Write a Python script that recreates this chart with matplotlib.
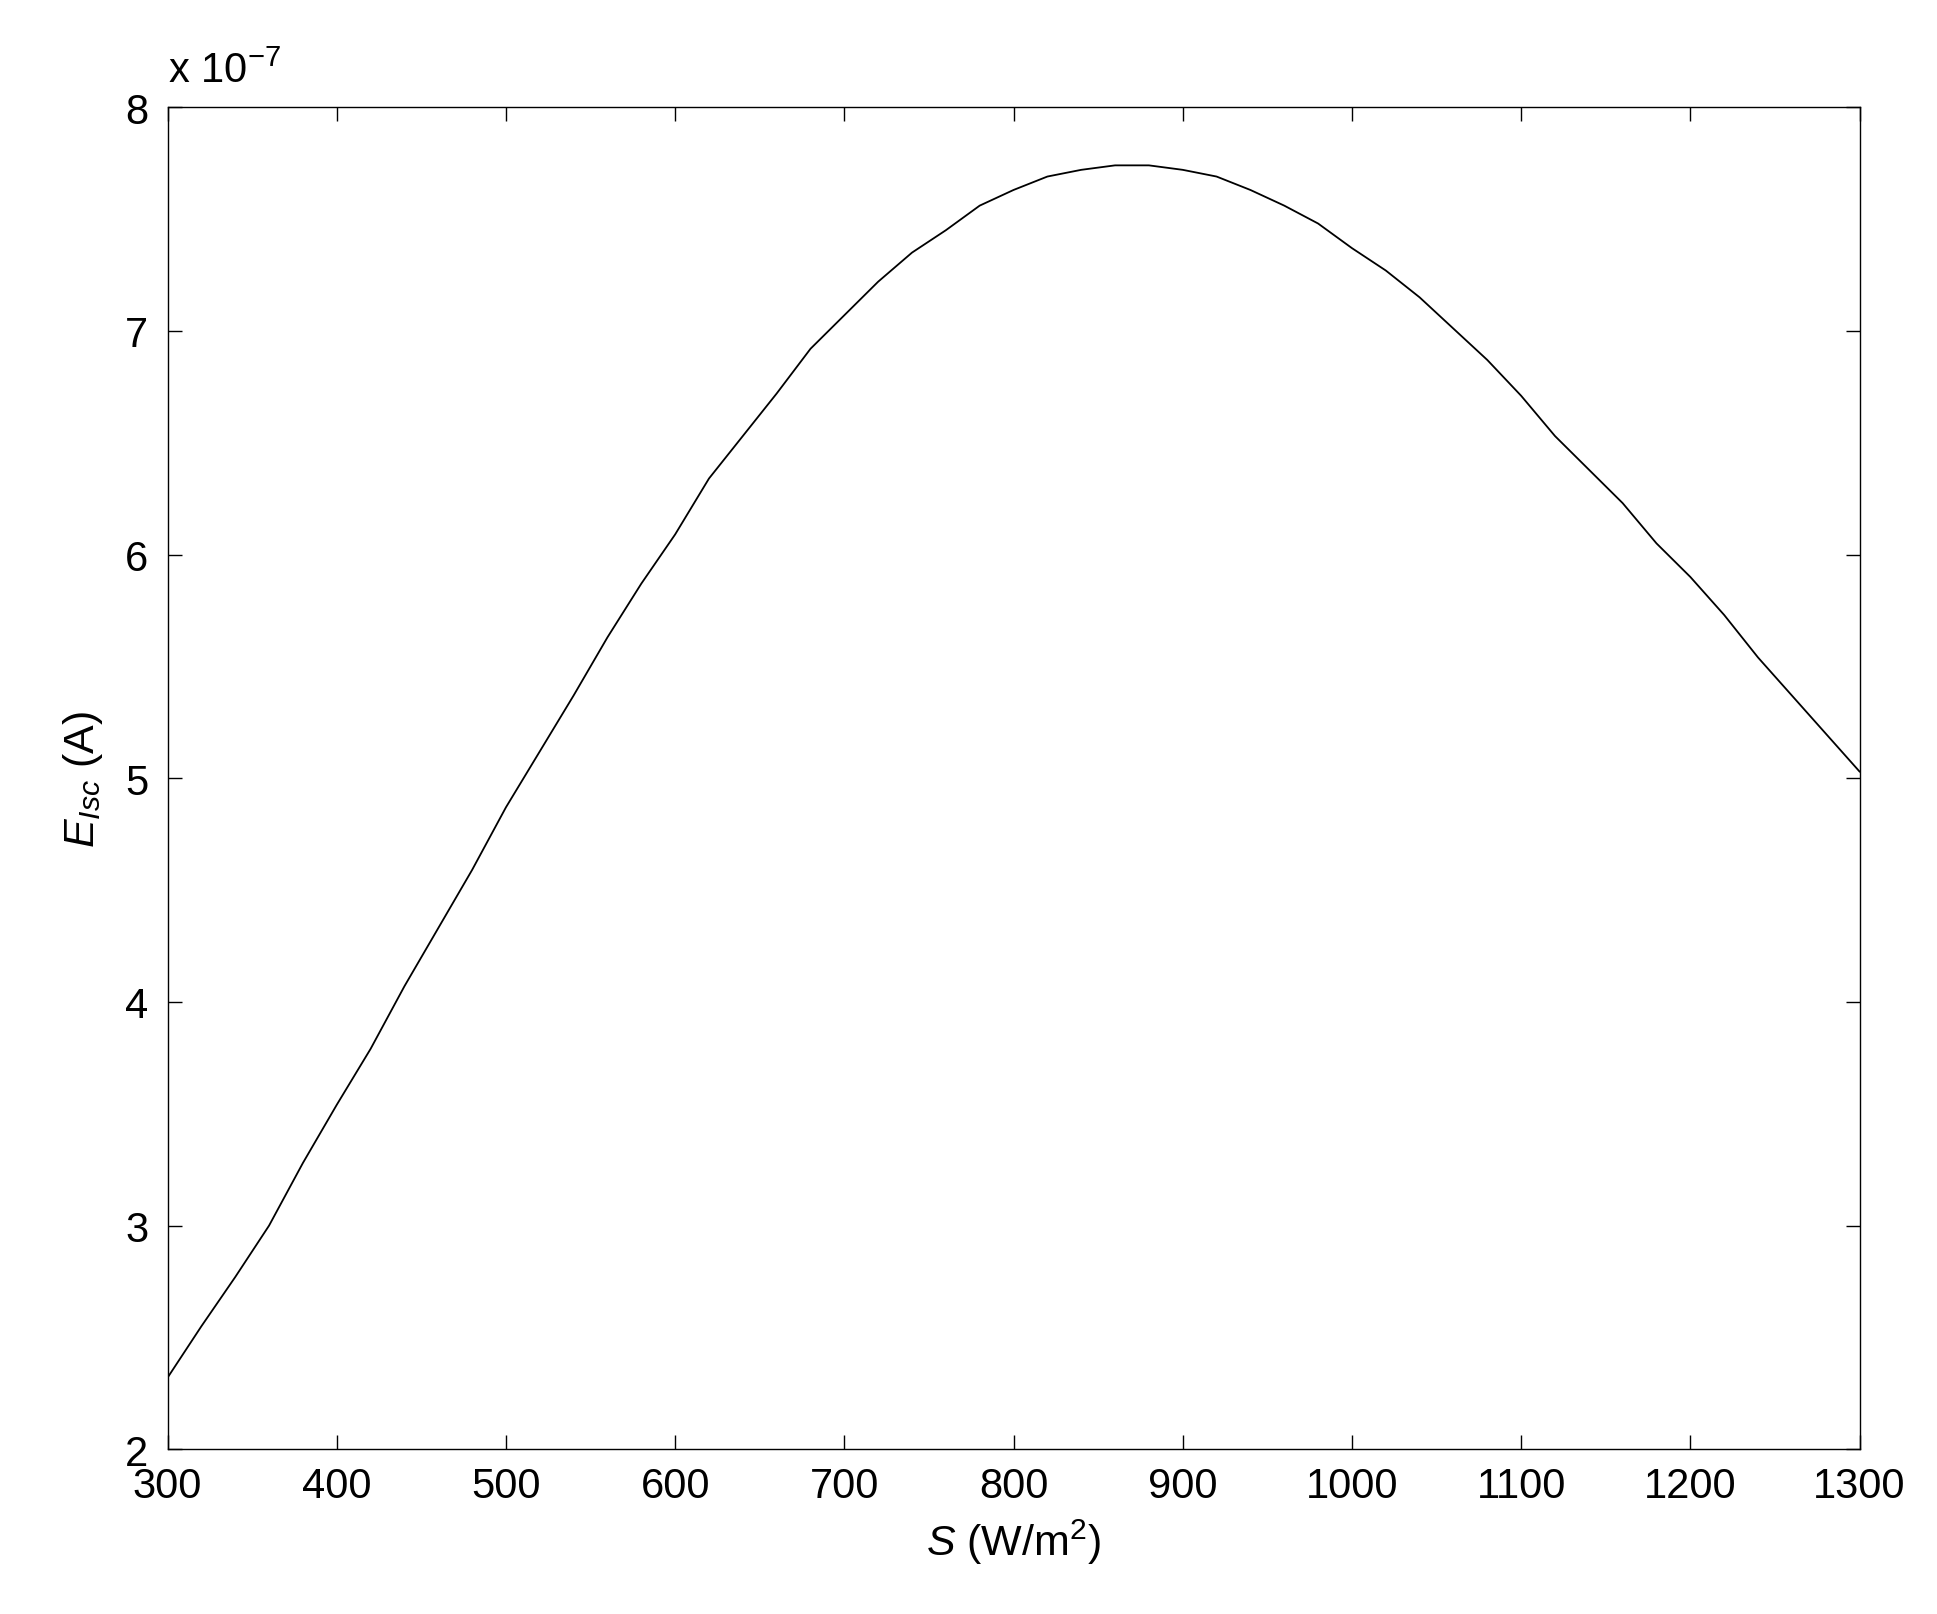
import matplotlib
matplotlib.use("Agg")
import matplotlib.pyplot as plt

S = list(range(300, 1301, 20))
E = [2.32, 2.55, 2.77, 3.00, 3.28, 3.54, 3.79, 4.07, 4.33, 4.59, 4.87, 5.12, 5.37, 5.63,
     5.87, 6.09, 6.34, 6.53, 6.72, 6.92, 7.07, 7.22, 7.35, 7.45, 7.56, 7.63, 7.69, 7.72,
     7.74, 7.74, 7.72, 7.69, 7.63, 7.56, 7.48, 7.37, 7.27, 7.15, 7.01, 6.87, 6.71, 6.53,
     6.38, 6.23, 6.05, 5.90, 5.73, 5.54, 5.37, 5.20, 5.03]
xticks = list(range(300, 1301, 100))
yticks = [2, 3, 4, 5, 6, 7, 8]

plt.rcParams['font.family'] = ['Liberation Sans', 'DejaVu Sans']
plt.rcParams['mathtext.fontset'] = 'custom'
plt.rcParams['mathtext.it'] = 'Liberation Sans:italic'
plt.rcParams['mathtext.rm'] = 'Liberation Sans'

fig = plt.figure(figsize=(19.37, 16.15), dpi=100)
ax = fig.add_axes([0.0865, 0.102, 0.8785 - 0.005, 0.831])
ax.plot(S, E, color='black', linewidth=1.3)
ax.set_xlim(300, 1300)
ax.set_ylim(2, 8)
ax.set_xticks(xticks)
ax.set_yticks(yticks)
ax.tick_params(direction='in', top=True, right=True, labelsize=30, length=10, width=1)
ax.tick_params(axis='x', pad=12)
ax.tick_params(axis='y', pad=14)
for sp in ax.spines.values():
    sp.set_linewidth(1)
ax.set_xlabel(r'$\it{S}$ (W/m$^2$)', fontsize=31, labelpad=8)
ax.set_ylabel(r'$\it{E}_{\it{Isc}}$ (A)', fontsize=31, labelpad=14)
ax.text(0.0, 1.012, r'x 10$^{-7}$', transform=ax.transAxes, fontsize=30,
        ha='left', va='bottom')
fig.savefig('out.png', dpi=100, facecolor='white')
